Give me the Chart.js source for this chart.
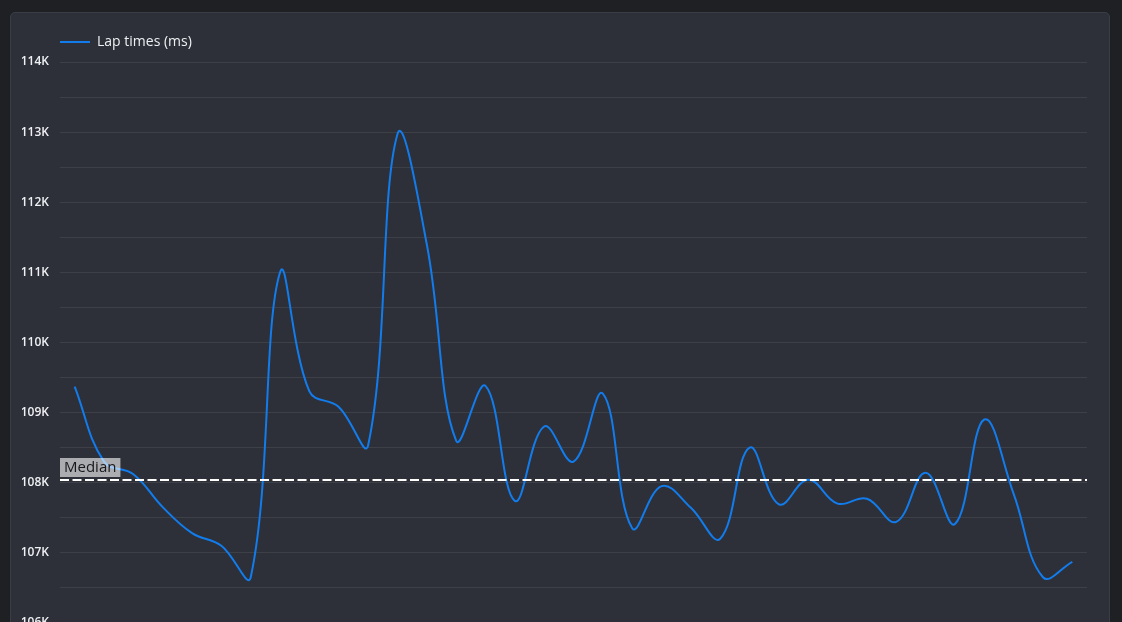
<!DOCTYPE html>
<html>
<head>
<meta charset="utf-8">
<title>Lap times</title>
<script src="https://cdn.jsdelivr.net/npm/chart.js@4.4.1/dist/chart.umd.min.js"></script>
<style>
  html, body {
    margin: 0;
    padding: 0;
    width: 1122px;
    height: 622px;
    overflow: hidden;
    background: #1f2023;
  }
  .card {
    position: absolute;
    left: 10px;
    top: 12px;
    width: 1098px;
    height: 700px;
    background: #2d3038;
    border: 1px solid #3a3d45;
    border-radius: 5px;
  }
  .chart-box {
    position: absolute;
    left: 11px;
    top: 9px;
    width: 1065px;
    height: 628px;
  }
</style>
</head>
<body>
<div class="card">
  <div class="chart-box"><canvas id="laps"></canvas></div>
</div>
<script>
// Lap numbers and lap times (ms)
const laps = Array.from({ length: 35 }, (_, i) => String(i + 1))
const lapTimes = [
  109370, 108300, 108120, 107650, 107280, 107100, 106650, 111000, 109300, 109080,
  108530, 112970, 111400, 108600, 109380, 107740, 108800, 108300, 109270, 107350,
  107950, 107640, 107200, 108500, 107690, 108040, 107700, 107770, 107440, 108140,
  107410, 108900, 107840, 106650, 106870
]
const yMin = 106000
const yMax = 114000
const yStep = 500

const lineColor = "#127cec"
const textColor = "#eef0f3"
const gridColor = "rgba(255, 255, 255, 0.08)"
const fontFamily = "'Open Sans', 'Noto Sans', sans-serif"

function median(values) {
  const sorted = [...values].sort((a, b) => a - b)
  const mid = Math.floor(sorted.length / 2)
  return sorted.length % 2 ? sorted[mid] : (sorted[mid - 1] + sorted[mid]) / 2
}

const medianLap = median(lapTimes)

// dashed reference line across the plot, with a small label box on the left
const medianLine = {
  id: "medianLine",
  afterDatasetsDraw(chart) {
    const { ctx, chartArea, scales } = chart
    const y = Math.round(scales.y.getPixelForValue(medianLap))
    ctx.save()
    ctx.strokeStyle = "#ffffff"
    ctx.lineWidth = 2
    ctx.setLineDash([9, 3.5])
    ctx.beginPath()
    ctx.moveTo(chartArea.left, y)
    ctx.lineTo(chartArea.right, y)
    ctx.stroke()
    ctx.setLineDash([])

    ctx.font = `15px ${fontFamily}`
    const label = "Median"
    const w = ctx.measureText(label).width + 8
    ctx.fillStyle = "rgba(255, 255, 255, 0.6)"
    ctx.fillRect(chartArea.left, y - 22, w, 19)
    ctx.fillStyle = "#17181b"
    ctx.textBaseline = "middle"
    ctx.fillText(label, chartArea.left + 4, y - 12)
    ctx.restore()
  }
}

// a little more room under the legend
const legendGap = {
  id: "legendGap",
  beforeInit(chart) {
    const fit = chart.legend.fit
    chart.legend.fit = function () {
      fit.call(this)
      this.height += 3
    }
  }
}

new Chart(document.getElementById("laps"), {
  type: "line",
  data: {
    labels: laps,
    datasets: [
      {
        label: "Lap times (ms)",
        data: lapTimes,
        borderColor: lineColor,
        backgroundColor: lineColor,
        borderWidth: 2,
        tension: 0.4,
        pointRadius: 0,
        fill: false
      }
    ]
  },
  options: {
    responsive: true,
    maintainAspectRatio: false,
    devicePixelRatio: 1,
    animation: false,
    layout: { padding: { top: 13 } },
    plugins: {
      legend: {
        position: "top",
        align: "start",
        fullSize: false,
        labels: {
          color: textColor,
          boxWidth: 30,
          boxHeight: 0,
          padding: 0,
          font: { family: fontFamily, size: 14 }
        }
      },
      tooltip: { enabled: false }
    },
    scales: {
      x: {
        offset: true,
        grid: { display: false },
        border: { display: false },
        ticks: { color: textColor, font: { family: fontFamily, size: 11, weight: "600" } }
      },
      y: {
        min: yMin,
        max: yMax,
        afterFit: (scale) => { scale.width = 38 },
        grid: { color: gridColor, drawTicks: false },
        border: { display: false },
        ticks: {
          stepSize: yStep,
          padding: 11,
          color: textColor,
          font: { family: fontFamily, size: 12, weight: "600" },
          callback: (value) => (value % 1000 === 0 ? `${value / 1000}K` : "")
        }
      }
    }
  },
  plugins: [medianLine, legendGap]
})
</script>
</body>
</html>
